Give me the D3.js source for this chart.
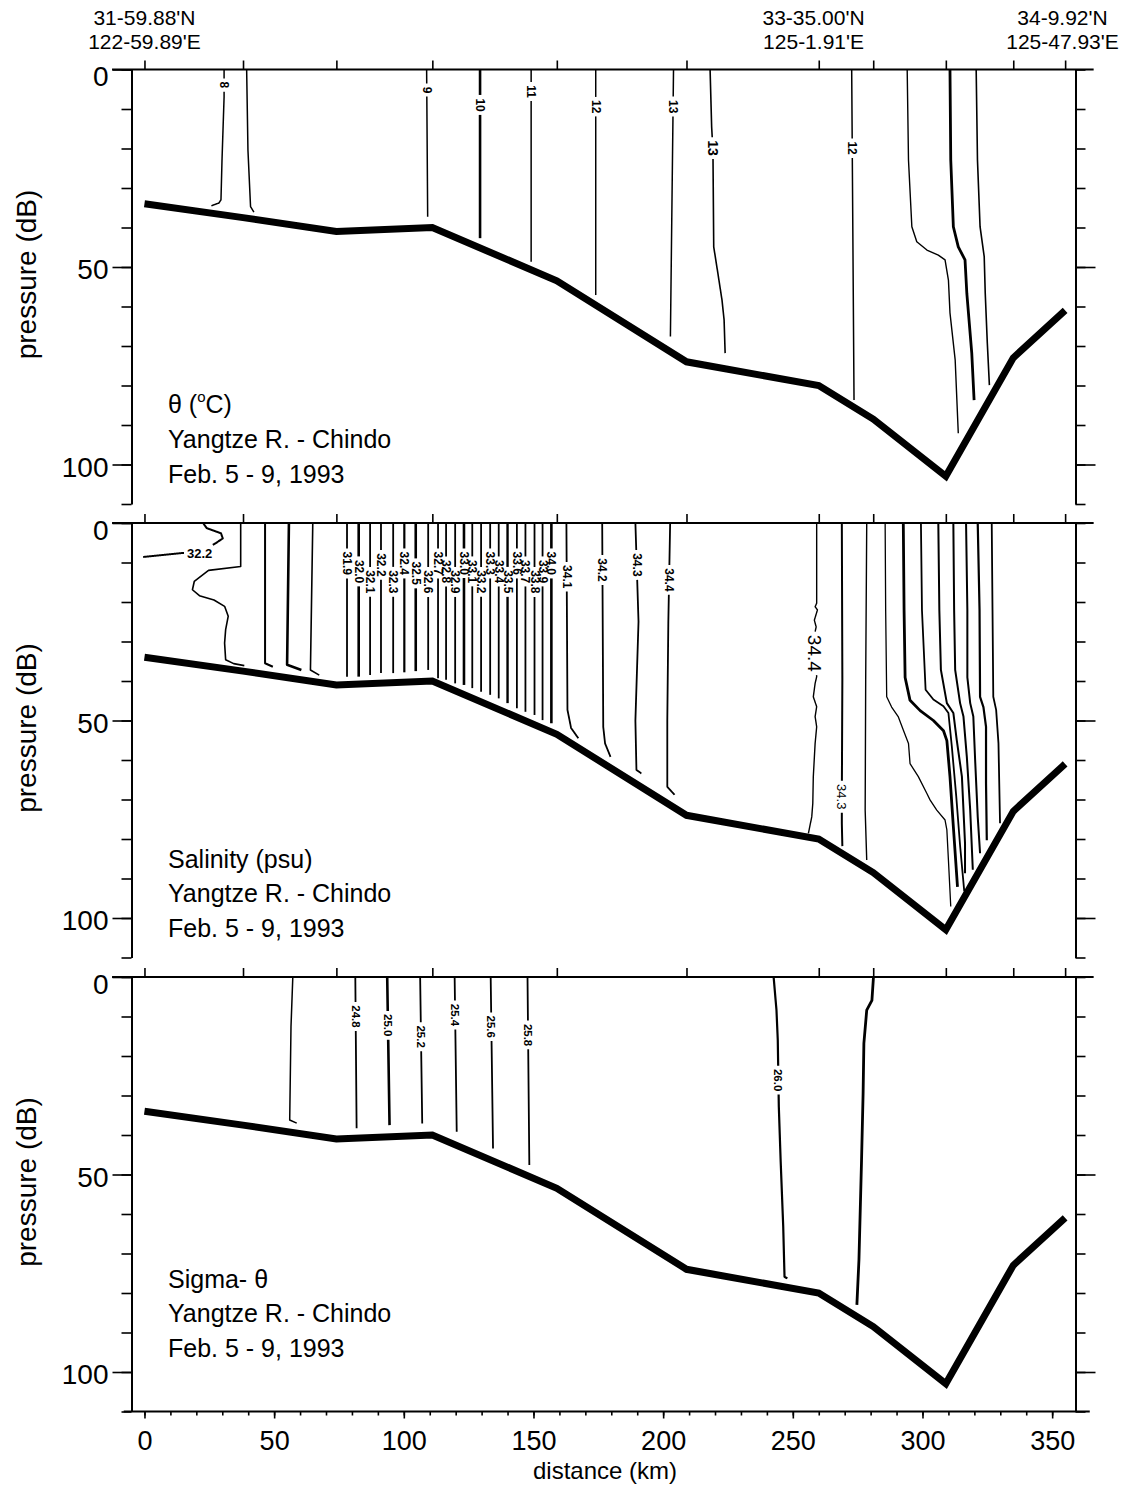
<!DOCTYPE html>
<html><head><meta charset="utf-8">
<script src="https://cdn.jsdelivr.net/npm/d3@7"></script>
<style>
body{margin:0;background:#fff;}
svg{display:block;font-family:"Liberation Sans",Arial,Helvetica,sans-serif;}
</style></head><body>
<svg id="chart" width="1124" height="1487"></svg>
<script>
// ================= DATA =================
// station positions (km) and bottom pressure (dB)
const stationKm = [0, 38, 74, 111, 159, 209, 260, 281, 309, 335, 355];
const bottomDb  = [34, 37.5, 41, 40, 53.5, 74, 80, 88.5, 103, 73, 61];

const yTickMajor = [0, 50, 100];
const yTickMinor = [0, 10, 20, 30, 40, 50, 60, 70, 80, 90, 100, 110];
const xTickMajor = [0, 50, 100, 150, 200, 250, 300, 350];
const xTickMinor = [0,10,20,30,40,50,60,70,80,90,100,110,120,130,140,150,160,170,180,190,200,210,220,230,240,250,260,270,280,290,300,310,320,330,340,350];

const headerStationKm = [0, 258, 354];
const headerLat = ["31-59.88'N", "33-35.00'N", "34-9.92'N"];
const headerLon = ["122-59.89'E", "125-1.91'E", "125-47.93'E"];

// ---- potential temperature contours: [km, dB]
const thetaLabels  = ["8", "", "9", "10", "11", "12", "13", "13", "12", "", "", ""];
const thetaLabelDb = [3.9, null, 5.2, 9.0, 5.6, 9.4, 9.4, 19.9, 19.9, null, null, null];
const thetaLines = [
  [[30.7,0],[30.7,7],[29.9,22.9],[29.5,33],[28.7,33.8],[25.8,34.5]],
  [[39.4,0],[39.9,20.4],[40.9,34.7],[42.2,36.1]],
  [[108.8,0],[109.2,37.3]],
  [[129.4,0],[129.4,42.7]],
  [[149.1,0],[149.1,48.7]],
  [[174,0],[174,57.1]],
  [[204,0],[202.8,67.6]],
  [[218.1,0],[218.7,14.5],[219.2,20.4],[219.5,44.9],[221.2,52],[222.7,58.4],[223.5,63.4],[223.9,71.8]],
  [[272.7,0],[273.6,83.7]],
  [[294.1,0],[294.6,22.9],[295.9,39.8],[297.8,43.6],[301.7,45.7],[306.1,47],[308.7,48.2],[310,53.3],[310.6,61.6],[312.6,73.5],[313.8,92.1]],
  [[310.6,0],[310.9,22.9],[311.9,39.8],[313.8,44.9],[316.4,48.2],[317.1,56.7],[319,71.8],[319.9,83.7]],
  [[320.7,0],[321.2,22.9],[322.2,39.8],[323.8,47.4],[324.2,56.7],[325,69.3],[325.8,79.9]]
];

// ---- salinity contours
const salLabels = ["32.2", "", "", "", "",
  "31.9","32.0","32.1","32.2","32.3","32.4","32.5","32.6","32.7","32.8","32.9",
  "33.0","33.1","33.2","33.3","33.4","33.5","33.6","33.7","33.8","33.9","34.0",
  "34.1","34.2","34.3","34.4",
  "34.4","34.3","","","","","","","","",""];
const salLabelKm = [21.3];   // horizontal label of the first contour
const salLabelDb = [7.6, null, null, null, null,
  10.2,12.3,14.9,10.6,14.9,10.2,12.7,14.9,10.2,12.3,14.9,
  10.2,12.3,14.9,10.2,12.3,14.9,10.2,12.3,14.9,12.3,10.2,
  13.6,11.9,10.6,14.4,
  33,69.3,null,null,null,null,null,null,null,null,null];
const salDenseKm  = [78.1,82.6,87.0,91.2,95.9,100.2,104.6,109.4,113.2,116.3,119.8,123.2,126.4,129.8,133.3,136.6,140.0,143.6,146.9,150.4,153.5,156.9];
const salDenseEnd = [38.9,38.9,38.5,38.0,38.0,37.8,37.5,37.2,39.3,39.7,40.6,41.0,41.8,42.7,43.5,44.4,45.6,46.9,47.8,48.6,49.9,50.7];
const salLines = [
  [[-0.5,8.6],[14.5,7.6],[21.3,7.6],[27.5,5.1],[30.2,3.9],[29.5,2.6],[24,1.3],[22.6,0]],
  [[37.1,0],[37.1,11],[24.7,12],[19.2,14.8],[18.5,16.9],[21.2,18.4],[26.8,19.5],[30.9,21.1],[32.3,23.6],[31.3,27],[30.9,30.4],[31.3,34.6],[34.4,35.6],[38.5,36.1]],
  [[46.5,0],[46.5,35.5],[49.5,36.4]],
  [[55.7,0],[55,35.9],[60.5,37.2]],
  [[64.9,0],[64,37.2],[67.4,38.5]]
].concat(salDenseKm.map((k, i) => [[k, 0], [k, salDenseEnd[i]]])).concat([
  [[162.7,0],[163.1,47.3],[164.5,51.9],[167.3,54.5]],
  [[176.5,0],[176.9,51.6],[177.6,55.8],[179.7,59.2]],
  [[189.3,0],[190.5,25],[189.3,50],[189.7,62.5],[191.6,63.4]],
  [[202.7,0],[202,25],[201.6,50],[201.6,66.8],[204.4,68.8]],
  [[259.2,0],[259.2,20.3],[258.6,21.2],[259.5,22],[258.3,24.6],[259,26.3],[258.2,28.8],[258.5,33],[259.2,38.9],[258.6,40.6],[257.9,44],[259.2,46.5],[258.6,49],[259.2,51.6],[258.6,55.8],[257.9,64.2],[257.7,71],[257.3,74.4],[256,78.6]],
  [[268.9,0],[269.1,39.7],[268.9,69.3],[268.9,76],[269.1,81.8]],
  [[278.5,0],[278.1,39.7],[277.9,72.7],[278.5,85.3]],
  [[285.6,0],[285.8,22.1],[286.2,44],[288.1,46.6],[290.7,49.1],[292.6,52.4],[294.6,55.8],[295.2,60.9],[298.4,64.2],[301.7,68.5],[302.9,70.1],[305.5,72.7],[308.7,75.2],[309.4,77.7],[310,85.3],[310.9,97.1]],
  [[292.6,0],[292.9,22.1],[293.3,39.1],[295.2,44.9],[299.1,47.5],[304.2,50],[308.1,52.6],[309.4,55.1],[310.6,64.2],[311.9,76.9],[313.5,92.1]],
  [[299.4,0],[299.8,22.1],[301.2,42.2],[304.2,44.7],[308.1,46.4],[310,48.1],[311.3,56.5],[313,69.1],[314.5,81.7],[316.1,93.2]],
  [[306.1,0],[306.5,22.1],[307.1,37.2],[309.4,45.6],[311.9,48.1],[313.2,54.9],[315.2,64.2],[316.4,81.1],[316.4,88.7]],
  [[311.9,0],[312.2,22.1],[312.6,37.2],[314.5,45.6],[315.8,49],[317.1,59.2],[318.4,72.7],[319.4,87.8]],
  [[316.8,0],[317.3,22.1],[317.3,39.1],[318.4,45.6],[319.6,49],[320.3,60],[321.3,74.4],[322.2,83.6]],
  [[321.3,0],[322,22],[322.2,44],[323.5,46.6],[324.5,51.6],[324.5,65.9],[324.8,80.3]],
  [[326.7,0],[327,22],[327.3,44],[328.4,47.3],[329.3,55.8],[329.9,76]]
]);

// ---- sigma-theta contours
const sigmaLabels  = ["", "24.8", "25.0", "25.2", "25.4", "25.6", "25.8", "26.0", ""];
const sigmaLabelDb = [null, 10, 12.2, 15.1, 9.6, 12.6, 14.7, 26.1, null];
const sigmaLines = [
  [[57.2,0],[56.5,12.6],[56,36.2],[58.7,37]],
  [[81.3,0],[81.8,38.3]],
  [[93.6,0],[94.5,37.5]],
  [[106.3,0],[107.1,37.1]],
  [[119.6,0],[120.4,39.2]],
  [[133.5,0],[134.4,43.4]],
  [[147.7,0],[148.4,47.6]],
  [[242.6,0],[243.7,8.4],[244.2,16],[244.6,32.8],[245.3,46.4],[246.3,63.2],[246.8,75.9],[247.9,76.3]],
  [[281.1,0],[280.5,5.9],[278.5,8.4],[277.4,16.8],[277.1,29.5],[276.5,46.4],[275.5,71.6],[274.7,83]]
];

// ================= STYLES =================
const thetaWidths = [1.5,1.5,1.5,2.6,1.5,1.5,1.5,1.6,1.5,1.4,2.8,1.6];
const salWidths = [2,1.6,2,2.6,1.6,
  1.8,2.6,1.8,1.8,1.8,2.2,2.6,1.8,1.8,1.8,1.8,
  2.6,1.8,1.8,1.8,1.8,2.4,1.8,1.8,1.8,1.8,2.6,
  1.8,1.8,1.8,1.8,
  1.4,2,1.4,1.3,2.8,1.8,2,2,2,2.2,1.8];
const sigmaWidths = [1.5,1.8,2.6,1.8,1.8,1.8,1.8,2.2,2.8];
const thetaLabelFs = thetaLabels.map((d,i) => i === 7 ? 14 : 12);
const salLabelFs = salLabels.map((d,i) => i === 0 ? 13 : i === 31 ? 19 : i === 32 ? 13 : 12);
const salLabelWeight = salLabels.map((d,i) => (i === 31 || i === 32) ? "normal" : "bold");

// ================= DRAW =================
const svg = d3.select("#chart");
const x = d3.scaleLinear().domain([-5, 359]).range([131.5, 1075.5]);
const panelTops = [69.5, 523, 977];
const panelH = 434.5;

const panels = [
  {lines: thetaLines, labels: thetaLabels, labelDb: thetaLabelDb, labelKm: [], widths: thetaWidths,
   fs: thetaLabelFs, fw: thetaLabels.map(()=>"bold")},
  {lines: salLines, labels: salLabels, labelDb: salLabelDb, labelKm: salLabelKm, widths: salWidths,
   fs: salLabelFs, fw: salLabelWeight},
  {lines: sigmaLines, labels: sigmaLabels, labelDb: sigmaLabelDb, labelKm: [], widths: sigmaWidths,
   fs: sigmaLabels.map(()=>11.5), fw: sigmaLabels.map(()=>"bold")}
];

function kmAtDb(pts, db){
  for (let i = 0; i < pts.length - 1; i++){
    const a = pts[i], b = pts[i+1];
    if ((a[1]-db)*(b[1]-db) <= 0 && a[1] !== b[1]){
      const t = (db - a[1])/(b[1]-a[1]);
      return a[0] + (b[0]-a[0])*t;
    }
  }
  return pts[0][0];
}

function piecesOutside(pts, boxes){
  const out = []; let cur = [];
  const inside = p => boxes.some(b => Math.abs(p[0]-b.cx) < b.hw && Math.abs(p[1]-b.cy) < b.hh);
  for (let i = 0; i < pts.length - 1; i++){
    const [x0,y0] = pts[i], [x1,y1] = pts[i+1];
    const n = Math.max(1, Math.ceil(Math.hypot(x1-x0, y1-y0)/0.5));
    for (let k = (i === 0 ? 0 : 1); k <= n; k++){
      const t = k/n, p = [x0+(x1-x0)*t, y0+(y1-y0)*t];
      if (inside(p)) { if (cur.length > 1) out.push(cur); cur = []; }
      else cur.push(p);
    }
  }
  if (cur.length > 1) out.push(cur);
  return out;
}

const measure = svg.append("text").attr("x", -1000).attr("y", -1000);
function textLen(txt, fs, fw){
  measure.attr("font-size", fs).attr("font-weight", fw).text(txt);
  return measure.node().getComputedTextLength();
}

const titles1 = ["θ  (", "Salinity (psu)", "Sigma- θ"];
const titleOffsets = [[343, 378, 413], [345, 379, 414], [311, 345, 380]];

panelTops.forEach((top, pi) => {
  const y = d3.scaleLinear().domain([0, 110]).range([top, top + panelH]);
  const P = panels[pi];
  const g = svg.append("g");

  // contours
  const lineGen = d3.line();
  const labelG = g.append("g");
  P.lines.forEach((pts, li) => {
    const px = pts.map(d => [x(d[0]), y(d[1])]);
    const boxes = [];
    const lab = P.labels[li];
    if (lab) {
      const fs = P.fs[li], fw = P.fw[li];
      const len = textLen(lab, fs, fw);
      const horizontal = (P.labelKm[li] !== undefined && P.labelKm[li] !== null);
      const db = P.labelDb[li];
      const km = horizontal ? P.labelKm[li] : kmAtDb(pts, db);
      const cx = x(km), cy = y(db);
      if (horizontal) boxes.push({cx, cy, hw: len/2 + 3, hh: fs*0.6});
      else boxes.push({cx, cy, hw: fs*0.6, hh: len/2 + 3});
      labelG.append("text")
        .attr("transform", `translate(${cx},${cy})` + (horizontal ? "" : " rotate(90)"))
        .attr("text-anchor", "middle")
        .attr("dominant-baseline", "central")
        .attr("font-size", fs).attr("font-weight", fw)
        .text(lab);
    }
    const pieces = boxes.length ? piecesOutside(px, boxes) : [px];
    pieces.forEach(pc => {
      g.insert("path", ":first-child").attr("d", lineGen(pc))
        .attr("fill", "none").attr("stroke", "#000")
        .attr("stroke-width", P.widths[li]).attr("stroke-linejoin", "round");
    });
  });

  // bathymetry
  g.append("path")
    .attr("d", d3.line().x((d,i) => x(stationKm[i])).y(d => y(d))(bottomDb))
    .attr("fill", "none").attr("stroke", "#000").attr("stroke-width", 7)
    .attr("stroke-linejoin", "miter");

  // axes
  const ax = svg.append("g").attr("class", "axes");
  // top line + station ticks
  ax.append("line").attr("x1", x(-12.5)).attr("x2", x(366)).attr("y1", y(0)).attr("y2", y(0))
    .attr("stroke", "#000").attr("stroke-width", 2);
  ax.append("g").attr("transform", `translate(0,${y(0)})`)
    .call(d3.axisTop(x).tickValues(stationKm).tickSize(9).tickFormat(""))
    .call(s => s.select(".domain").remove());
  // left axis
  ax.append("g").attr("transform", `translate(${x.range()[0]},0)`)
    .call(d3.axisLeft(y).tickValues(yTickMinor).tickSize(10).tickSizeOuter(0).tickFormat(""));
  ax.append("g").attr("class", "ylab").attr("transform", `translate(${x.range()[0]},0)`)
    .call(d3.axisLeft(y).tickValues(yTickMajor).tickSize(19).tickPadding(4).tickSizeOuter(0))
    .call(s => s.select(".domain").remove())
    .call(s => s.selectAll(".tick text").attr("dy", d => d === 0 ? "0.58em" : "0.42em"));
  // right axis
  ax.append("g").attr("transform", `translate(${x.range()[1]},0)`)
    .call(d3.axisRight(y).tickValues(yTickMinor).tickSize(10).tickSizeOuter(0).tickFormat(""));
  ax.append("g").attr("transform", `translate(${x.range()[1]},0)`)
    .call(d3.axisRight(y).tickValues([50, 100]).tickSize(20).tickSizeOuter(0).tickFormat(""))
    .call(s => s.select(".domain").remove());

  if (pi === 2) {
    ax.append("line").attr("x1", x(-8)).attr("x2", x(364.5)).attr("y1", y(110)).attr("y2", y(110))
      .attr("stroke", "#000").attr("stroke-width", 2);
    ax.append("g").attr("transform", `translate(0,${y(110)})`)
      .call(d3.axisBottom(x).tickValues(xTickMinor).tickSize(4).tickFormat(""))
      .call(s => s.select(".domain").remove());
    ax.append("g").attr("class", "xlab").attr("transform", `translate(0,${y(110)})`)
      .call(d3.axisBottom(x).tickValues(xTickMajor).tickSize(7).tickPadding(12))
      .call(s => s.select(".domain").remove());
  }

  // y title
  svg.append("text")
    .attr("transform", `translate(36,${top + 205}) rotate(-90)`)
    .attr("text-anchor", "middle").attr("font-size", 28)
    .text("pressure (dB)");

  // panel titles
  const tg = svg.append("g").attr("font-size", 25);
  const t1 = tg.append("text").attr("x", 168).attr("y", top + titleOffsets[pi][0]).text(titles1[pi]);
  if (pi === 0) {
    t1.append("tspan").attr("font-size", 15).attr("dy", -11).text("o");
    t1.append("tspan").attr("dy", 11).text("C)");
  }
  tg.append("text").attr("x", 168).attr("y", top + titleOffsets[pi][1]).text("Yangtze R. - Chindo");
  tg.append("text").attr("x", 168).attr("y", top + titleOffsets[pi][2]).text("Feb. 5 - 9, 1993");
});

svg.selectAll(".axes path, .axes line").attr("stroke", "#000").attr("stroke-width", 2);
svg.selectAll(".axes .tick line").attr("stroke-width", 1.6);
svg.selectAll(".ylab text").attr("font-size", 28).attr("fill", "#000");
svg.selectAll(".xlab text").attr("font-size", 27).attr("fill", "#000");
svg.selectAll(".axes g").attr("font-family", null);

// header station coordinates
headerStationKm.forEach((k, i) => {
  svg.append("text").attr("x", x(k)).attr("y", 25).attr("text-anchor", "middle")
    .attr("font-size", 21).text(headerLat[i]);
  svg.append("text").attr("x", x(k)).attr("y", 49).attr("text-anchor", "middle")
    .attr("font-size", 21).text(headerLon[i]);
});

// x title
svg.append("text").attr("x", 605).attr("y", 1479).attr("text-anchor", "middle")
  .attr("font-size", 24).text("distance (km)");
measure.remove();
</script>
</body></html>
